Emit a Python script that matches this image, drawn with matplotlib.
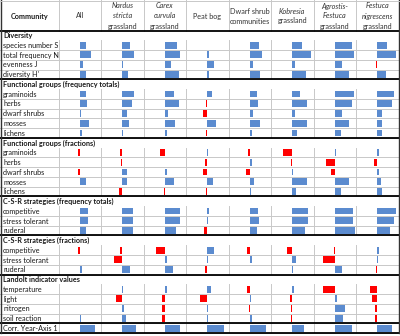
import matplotlib
matplotlib.use("Agg")
import matplotlib.pyplot as plt

# ---------------- data ----------------
communities = ["All", "Nardus stricta grassland", "Carex curvula grassland", "Peat bog",
               "Dwarf shrub communities", "Kobresia grassland", "Agrostis-Festuca grassland",
               "Festuca nigrescens grassland"]

sections = ["Diversity", "Functional groups (frequency totals)", "Functional groups (fractions)",
            "C-S-R strategies (frequency totals)", "C-S-R strategies (fractions)",
            "Landolt indicator values", None]
section_rows = [
    ["species number S", "total frequency N", "evenness J", "diversity H'"],
    ["graminoids", "herbs", "dwarf shrubs", "mosses", "lichens"],
    ["graminoids", "herbs", "dwarf shrubs", "mosses", "lichens"],
    ["competitive", "stress tolerant", "ruderal"],
    ["competitive", "stress tolerant", "ruderal"],
    ["temperature", "light", "nitrogen", "soil reaction"],
    ["Corr. Year-Axis 1"],
]

# bar values (relative bar length), one list per community, rows in table order
all_vals = [6, 11.7, 3.3, 6.7,
            6.7, 7.3, 1.7, 9.3, 2,
            -1.5, 0.5, -1.5, 6, 0.5,
            8.3, 8.7, 6,
            -1.7, 0.4, 2,
            0.4, 0.4, 0.4, 1.3,
            15]
nardus_vals = [7.7, 11.7, 1, 6,
               12, 10, 5, 7, 1,
               -2, -1.5, 5, 5, -3,
               11, 11, 11,
               -2.3, -8, 7.7,
               1, -6.3, 2, 3.3,
               13.3]
carex_vals = [12.3, 15, 6.7, 14.3,
              9, 14, 3.3, 10.7, 2.3,
              -5, 0.7, 2.3, 9, -1,
              15, 15.7, 11.7,
              -8.3, 2.7, 8.3,
              2.3, -2.3, -2.3, -2.3,
              15]
peat_vals = [-0.7, 1.5, 7, 1.3,
             5, -1.3, -4, 8.7, -1.3,
             0.7, -2.3, -4, 6, -1.3,
             1.3, 1, -3.3,
             6.7, 0.7, -2.7,
             3.7, -7.3, 1, 1,
             17]
dwarf_vals = [9, 12.3, 3.3, 10.7,
              7.3, 8.3, 3.3, 10, 2.3,
              -1.7, 2.7, -3.3, 4, 1,
              8.3, 9, 7.7,
              -2.7, 2.3, 0.7,
              -2.7, 1.7, -0.7, 2.7,
              16]
kobresia_vals = [9.7, 18.3, 2.3, 13.3,
                 7.3, 15, 3, 15, 4.7,
                 -9.3, -1.7, 0.7, 15, 4,
                 15.7, 15.7, 12.3,
                 -5, 3.3, 0.4,
                 1.3, -2, -1.7, -1.7,
                 11.7]
agrostis_vals = [17.3, 19.3, 7.3, 14.3,
                 19, 17.7, 7.7, 14, 6.7,
                 1.7, -8.3, -4, 14, 6,
                 18.3, 18.3, 20,
                 -1, -11.7, 7.3,
                 -11.7, 2.3, 10.7, 8.3,
                 17.3]
festuca_vals = [9.7, 19, -1, 9,
                16.3, 15, 5, 5, 5,
                1.3, -3.3, 1.7, 3.3, 4.7,
                19, 16.7, 13,
                1.3, 1, -1.7,
                -7.7, -5.3, -2, -2,
                15]
values = [all_vals, nardus_vals, carex_vals, peat_vals, dwarf_vals,
          kobresia_vals, agrostis_vals, festuca_vals]

# header lines: (text, italic)
headers = [
    [("All", False)],
    [("Nardus", True), ("stricta", True), ("grassland", False)],
    [("Carex", True), ("curvula", True), ("grassland", False)],
    [("Peat bog", False)],
    [("Dwarf shrub", False), ("communities", False)],
    [("Kobresia", True), ("grassland", False)],
    [("Agrostis-", True), ("Festuca", True), ("grassland", False)],
    [("Festuca", True), ("nigrescens", True), ("grassland", False)],
]

# ---------------- layout ----------------
W, H = 400, 336
FONT = "Lato"
FS = 5.2
BLUE = "#5B8BCF"
RED = "#FF0000"
GRID = "#C8C8C8"

top = 30.5
rowh = 9.76
col0 = 58.5
colw = 42.5
ncol = len(communities)

fig = plt.figure(figsize=(W / 100, H / 100), dpi=100)
bg = fig.add_axes([0, 0, 1, 1])
bg.set_xlim(0, W)
bg.set_ylim(H, 0)
bg.axis("off")

# build row list
rows = []  # (label, is_header)
for sec, labs in zip(sections, section_rows):
    if sec is not None:
        rows.append((sec, True))
    for lab in labs:
        rows.append((lab, False))
nrows = len(rows)
bottom = top + nrows * rowh
right = col0 + ncol * colw

def ypx(i):
    return top + i * rowh

# horizontal gridlines and vertical gridlines
for i, (lab, is_head) in enumerate(rows):
    y0, y1 = ypx(i), ypx(i + 1)
    if not is_head:
        for c in range(ncol + 1):
            x = col0 + c * colw
            bg.plot([x, x], [y0, y1], color=GRID, lw=0.7, zorder=1)
        bg.plot([0, right], [y1, y1], color=GRID, lw=0.7, zorder=1)
    bg.text(3, (y0 + y1) / 2 + 0.3, lab, fontsize=FS, family=FONT,
            fontweight="bold" if is_head else "normal", va="center", ha="left", color="#1a1a1a")

# header vertical lines
for c in range(ncol + 1):
    x = col0 + c * colw
    bg.plot([x, x], [0, top], color=GRID, lw=0.7, zorder=1)

# thick section lines
thick_idx = [0] + [i for i, (l, h) in enumerate(rows) if h and i > 0] + [nrows - 1, nrows]
for i in thick_idx:
    bg.plot([0, right], [ypx(i), ypx(i)], color="black", lw=1.3, zorder=3)
# outer frame
bg.plot([0.6, 0.6], [0, bottom], color="#333333", lw=1.0, zorder=3)
bg.plot([right, right], [0, bottom], color="#333333", lw=1.0, zorder=3)
bg.plot([0, right], [0.5, 0.5], color=GRID, lw=0.7, zorder=3)

# header text
bg.text(col0 / 2, 16, "Community", fontsize=FS, family=FONT, fontweight="bold",
        ha="center", va="center", color="#1a1a1a")
for c, lines in enumerate(headers):
    cx = col0 + (c + 0.5) * colw
    n = len(lines)
    for k, (t, it) in enumerate(lines):
        y = 16 + (k - (n - 1) / 2) * 10
        bg.text(cx, y, t, fontsize=FS, family=FONT, style="italic" if it else "normal",
                ha="center", va="center", color="#333333")

# data bars, one axes per community column
data_rows = [i for i, (l, h) in enumerate(rows) if not h]
for c, vals in enumerate(values):
    x0 = col0 + c * colw
    ax = fig.add_axes([x0 / W, 1 - bottom / H, colw / W, (bottom - top) / H])
    ax.set_xlim(-colw / 2, colw / 2)
    ax.set_ylim(nrows, 0)
    ax.axis("off")
    ax.patch.set_alpha(0)
    ys = [r + 0.5 for r in data_rows]
    ax.barh(ys, vals, height=0.7, color=[BLUE if v >= 0 else RED for v in vals],
            linewidth=0, zorder=2)

fig.savefig("out.png", dpi=100)
